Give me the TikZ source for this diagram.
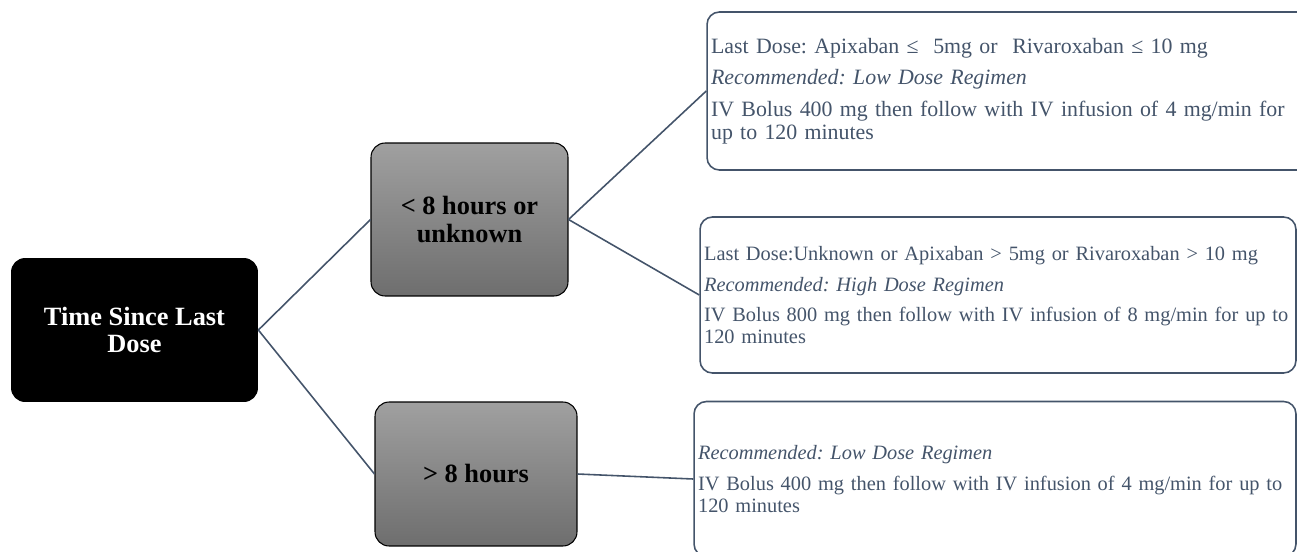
\documentclass[tikz,border=0pt]{standalone}
\usepackage{fontspec}
\setmainfont{Liberation Serif}
\frenchspacing
\definecolor{slate}{HTML}{44546A}
\definecolor{greytop}{HTML}{A0A0A0}
\definecolor{greybot}{HTML}{6E6E6E}
\begin{document}
\begin{tikzpicture}[
    x=0.02cm, y=-0.02cm,
    every node/.style={font=\fontsize{15}{15.5}\selectfont\bfseries},
    rootbox/.style={rectangle, rounded corners=8pt, fill=black, text=white, align=center},
    branch/.style={rectangle, rounded corners=8pt, draw=black, line width=0.6pt, top color=greytop, bottom color=greybot, align=center},
    info/.style={rectangle, rounded corners=7pt, draw=slate, line width=0.9pt, text=slate, align=left, inner xsep=0.08cm, font=\fontsize{12.45}{13}\selectfont},
    smallinfo/.style={info, font=\fontsize{11.6}{12.4}\selectfont},
    link/.style={draw=slate, line width=0.9pt}
]
\useasboundingbox (0,0) rectangle (1297,551);

% Root
\node[rootbox, minimum width=4.94cm, minimum height=2.88cm] (root) at (134.5, 330) {Time Since Last\\Dose};

% Branches
\node[branch, minimum width=3.94cm, minimum height=3.06cm] (early) at (469.5, 219.5) {< 8 hours or\\unknown};
\node[branch, minimum width=4.04cm, minimum height=2.88cm] (late) at (476, 474) {> 8 hours};

% Recommendations
\node[info, minimum height=3.16cm, text width=11.9cm] (low) at (1008.5, 91)
  {Last Dose: Apixaban ≤\ \ 5mg or\ \ Rivaroxaban ≤ 10 mg\\[5pt]
   \textit{Recommended: Low Dose Regimen}\\[5pt]
   IV Bolus 400 mg then follow with IV infusion of 4 mg/min for\\
   up to 120 minutes};
\node[smallinfo, minimum height=3.12cm, text width=11.76cm] (high) at (998, 295)
  {Last Dose:Unknown or Apixaban > 5mg or Rivaroxaban > 10 mg\\[5pt]
   \textit{Recommended: High Dose Regimen}\\[5pt]
   IV Bolus 800 mg then follow with IV infusion of 8 mg/min for up to\\
   120 minutes};
\node[smallinfo, minimum height=3.1cm, text width=11.88cm] (lowlate) at (995, 479)
  {\textit{Recommended: Low Dose Regimen}\\[5pt]
   IV Bolus 400 mg then follow with IV infusion of 4 mg/min for up to\\
   120 minutes};

% Connectors
\draw[link] (root.east) -- (early.west);
\draw[link] (root.east) -- (late.west);
\draw[link] (early.east) -- (low.west);
\draw[link] (early.east) -- (high.west);
\draw[link] (late.east) -- (lowlate.west);
\end{tikzpicture}
\end{document}
